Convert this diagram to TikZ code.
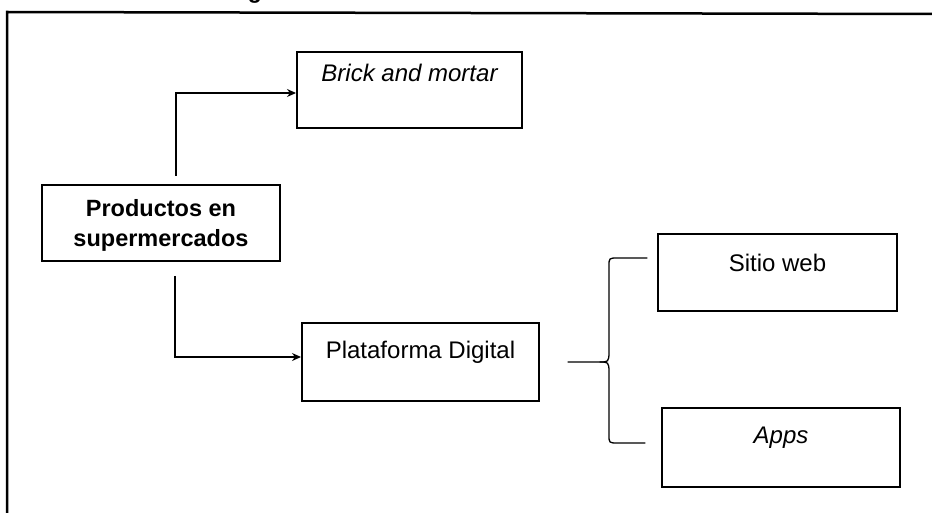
\documentclass[tikz,border=0pt]{standalone}
\usepackage{fontspec}
\setmainfont{Liberation Sans}
\usetikzlibrary{arrows.meta,calc}
\begin{document}
\begin{tikzpicture}[x=1pt,y=-1pt,
  box/.style={draw, line width=2pt, minimum width=238pt, minimum height=77pt, inner sep=0pt},
  lbl/.style={font=\fontsize{24}{28}\selectfont, align=center, inner sep=0pt},
  conn/.style={line width=1.3pt},
  arr/.style={conn, -{Stealth[length=9pt,width=8pt]}},
  frame/.style={line width=2.5pt}]
\useasboundingbox (0,0) rectangle (932,513);

% outer frame (open on the right and bottom)
\coordinate (fbl) at (7,513);
\coordinate (ftl) at (7,12);
\coordinate (ftr) at (932,14);
\draw[frame] (fbl) -- (ftl) -- (ftr);

% descender of the caption letter just above the frame
\node (cap) [anchor=base, font=\bfseries\fontsize{23}{27}\selectfont, inner sep=0pt] at (255,-1) {g};

% boxes
\node (brick) [box, minimum width=225pt, minimum height=76pt] at (409.5,90) {};
\node (brickt) [lbl] at ($(brick.center)+(0,-17)$) {\itshape Brick and mortar};

\node (prod) [box, minimum height=76pt] at (161,223) {};
\node (prodt) [lbl, font=\bfseries\fontsize{23.5}{30}\selectfont] at ($(prod.center)+(0,2)$) {Productos en\\supermercados};

\node (plat) [box, minimum width=237pt, minimum height=78pt] at (420.5,362) {};
\node (platt) [lbl] at ($(plat.center)+(0,-10)$) {Plataforma Digital};

\node (web) [box, minimum width=239pt] at (777.5,272.5) {};
\node (webt) [lbl] at ($(web.center)+(0,-10)$) {Sitio web};

\node (apps) [box, minimum height=79pt] at (781,447.5) {};
\node (appst) [lbl] at ($(apps.center)+(0,-10)$) {\itshape Apps};

% connectors from the product box
\draw[arr, shorten <=8pt] ([xshift=15pt]prod.north) |- ([yshift=-3pt]brick.west);
\draw[arr, shorten <=14pt] ([xshift=14pt]prod.south) |- ([yshift=5pt]plat.west);

% brace splitting into the two channels
\coordinate (bs) at ($(plat.east)+(28,0)$);
\coordinate (bk) at (609,362);
\coordinate (bt) at (647,258);
\coordinate (bb) at (645,443);
\draw[conn, line cap=round]
  (bs) -- ($(bk)+(-9,0)$)
  .. controls ($(bk)+(-1,0)$) and (bk) .. ($(bk)+(0,-10)$)
  -- (609,266) .. controls (609,258) .. (618,258) -- (bt);
\draw[conn, line cap=round]
  ($(bk)+(-9,0)$)
  .. controls ($(bk)+(-1,0)$) and (bk) .. ($(bk)+(0,10)$)
  -- (609,435) .. controls (609,443) .. (618,443) -- (bb);
\end{tikzpicture}
\end{document}
